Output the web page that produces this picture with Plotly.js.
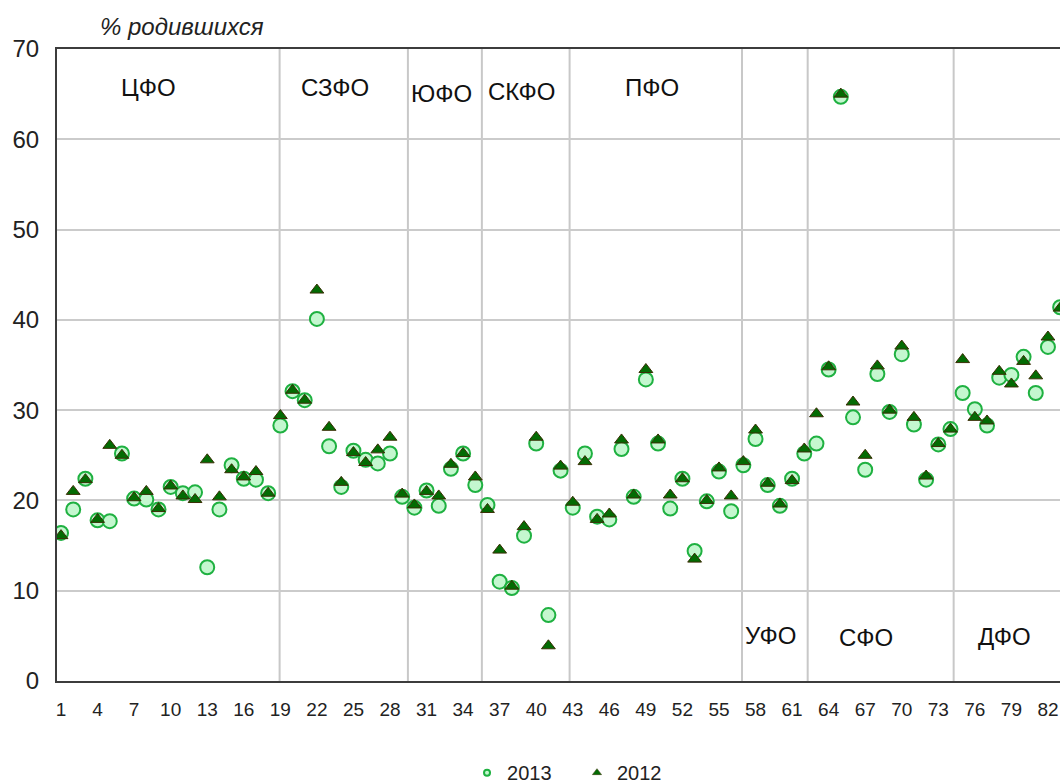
<!DOCTYPE html>
<html>
<head>
<meta charset="utf-8">
<script src="https://cdn.plot.ly/plotly-3.0.1.min.js"></script>
<style>
  html, body { margin: 0; padding: 0; overflow: hidden; background: #fff; }
  #chart { width: 1080px; height: 784px; }
</style>
</head>
<body>
<div id="chart"></div>
<script>
// Region index (1..83)
const regions = Array.from({length: 83}, (_, i) => i + 1);

// % births, 2013
const values2013 = [
  16.4, 19.0, 22.4, 17.8, 17.7, 25.2, 20.2, 20.1, 19.0, 21.5,
  20.8, 20.9, 12.6, 19.0, 23.9, 22.4, 22.3, 20.8, 28.3, 32.1,
  31.1, 40.1, 26.0, 21.5, 25.5, 24.5, 24.1, 25.2, 20.4, 19.2,
  21.1, 19.4, 23.5, 25.2, 21.7, 19.5, 11.0, 10.3, 16.1, 26.3,
  7.3, 23.3, 19.2, 25.2, 18.2, 17.9, 25.7, 20.4, 33.4, 26.3,
  19.1, 22.4, 14.4, 19.9, 23.2, 18.8, 23.9, 26.8, 21.7, 19.4,
  22.4, 25.2, 26.3, 34.5, 64.7, 29.2, 23.4, 34.0, 29.8, 36.2,
  28.4, 22.3, 26.2, 27.9, 31.9, 30.1, 28.3, 33.6, 33.9, 35.9,
  31.9, 37.0, 41.4
];

// % births, 2012
const values2012 = [
  16.1, 21.0, 22.3, 17.9, 26.1, 25.0, 20.3, 21.0, 19.1, 21.6,
  20.5, 20.1, 24.5, 20.4, 23.4, 22.6, 23.2, 20.8, 29.4, 32.2,
  31.1, 43.3, 28.1, 22.0, 25.3, 24.2, 25.6, 27.0, 20.7, 19.5,
  21.0, 20.5, 24.0, 25.2, 22.6, 19.0, 14.5, 10.5, 17.1, 27.0,
  3.9, 23.8, 19.8, 24.3, 17.9, 18.5, 26.7, 20.6, 34.5, 26.7,
  20.6, 22.4, 13.5, 20.0, 23.6, 20.5, 24.3, 27.8, 21.9, 19.6,
  22.2, 25.7, 29.6, 34.8, 65.0, 30.9, 25.0, 34.9, 30.0, 37.1,
  29.2, 22.7, 26.3, 27.9, 35.6, 29.2, 28.8, 34.3, 32.9, 35.4,
  33.8, 38.1, 41.3
];

// x tick values / labels
const xTickVals = [1, 4, 7, 10, 13, 16, 19, 22, 25, 28, 31, 34, 37, 40, 43, 46, 49, 52, 55, 58, 61, 64, 67, 70, 73, 76, 79, 82];
const xTickText = xTickVals.map(String);

// Federal district labels
const districtNames = ['ЦФО', 'СЗФО', 'ЮФО', 'СКФО', 'ПФО', 'УФО', 'СФО', 'ДФО'];

const seriesNames = ['2013', '2012'];
const yTitle = '% родившихся';

const FONT = '"Liberation Sans", Arial, sans-serif';

// Label placement (layout only)
const districtPos = [
  [8.15, 65.7], [23.5, 65.7], [32.2, 65.1], [38.8, 65.3], [49.5, 65.7],
  [59.2, 5.0], [67.1, 4.8], [78.4, 4.9]
];
const boundaryX = [18.94, 29.47, 35.54, 42.74, 56.89, 62.28, 74.26];

const circleStyle = { symbol: 'circle', size: 14, color: '#c4f7cf', line: { color: '#1fb141', width: 2 } };
const triStyle = { symbol: 'triangle-up', size: 12, color: '#036b03', line: { color: '#3a2e05', width: 1 } };

const traces = [
  { x: regions, y: values2013, type: 'scatter', mode: 'markers', name: seriesNames[0],
    marker: circleStyle, showlegend: false, hoverinfo: 'x+y' },
  { x: regions, y: values2012, type: 'scatter', mode: 'markers', name: seriesNames[1],
    marker: triStyle, showlegend: false, hoverinfo: 'x+y' },
  // legend-only entries with small symbols
  { x: [null], y: [null], type: 'scatter', mode: 'markers', name: seriesNames[0], legend: 'legend',
    marker: { symbol: 'circle', size: 6, color: '#c4f7cf', line: { color: '#1fb141', width: 2 } } },
  { x: [null], y: [null], type: 'scatter', mode: 'markers', name: seriesNames[1], legend: 'legend2',
    marker: { symbol: 'triangle-up', size: 8, color: '#036b03', line: { color: '#3a2e05', width: 0.5 } } }
];

const annotations = districtNames.map((t, i) => ({
  text: t, x: districtPos[i][0], y: districtPos[i][1], xref: 'x', yref: 'y',
  showarrow: false, xanchor: 'center', yanchor: 'middle',
  font: { family: FONT, size: 24, color: '#111' }
}));
annotations.push({
  text: '<i>' + yTitle + '</i>', xref: 'paper', yref: 'paper', x: 0.04, y: 1.035,
  xanchor: 'left', yanchor: 'middle', showarrow: false,
  font: { family: FONT, size: 24, color: '#222' }
});

const shapes = boundaryX.map(bx => ({
  type: 'line', xref: 'x', yref: 'y', x0: bx, x1: bx, y0: 0, y1: 70,
  line: { color: '#c8c8c8', width: 2 }, layer: 'below'
}));

const legendBase = {
  orientation: 'h', y: -0.145, xanchor: 'left', yanchor: 'middle',
  font: { family: FONT, size: 20, color: '#222' }, itemwidth: 30, bgcolor: 'rgba(0,0,0,0)'
};

const layout = {
  width: 1080, height: 784,
  margin: { l: 57, r: 0, t: 49, b: 103, pad: 0, autoexpand: false },
  paper_bgcolor: '#fff', plot_bgcolor: '#fff',
  font: { family: FONT, color: '#222' },
  showlegend: true,
  legend: Object.assign({ x: 0.4008 }, legendBase),
  legend2: Object.assign({ x: 0.5083 }, legendBase),
  xaxis: {
    range: [0.67, 84.63], tickmode: 'array', tickvals: xTickVals, ticktext: xTickText,
    showgrid: false, zeroline: false, showline: true, mirror: true,
    linecolor: '#3c3c3c', linewidth: 2, ticks: '', ticklabelstandoff: 10,
    tickfont: { family: FONT, size: 19, color: '#222' }, automargin: false
  },
  yaxis: {
    range: [0, 70], tickmode: 'linear', tick0: 0, dtick: 10,
    showgrid: true, gridcolor: '#cbcbcb', gridwidth: 2, zeroline: false,
    showline: true, mirror: true, linecolor: '#3c3c3c', linewidth: 2,
    ticks: '', ticklabelstandoff: 11,
    tickfont: { family: FONT, size: 24, color: '#222' }, automargin: false
  },
  shapes: shapes,
  annotations: annotations
};

Plotly.newPlot('chart', traces, layout, { displayModeBar: false, staticPlot: true });
</script>
</body>
</html>
